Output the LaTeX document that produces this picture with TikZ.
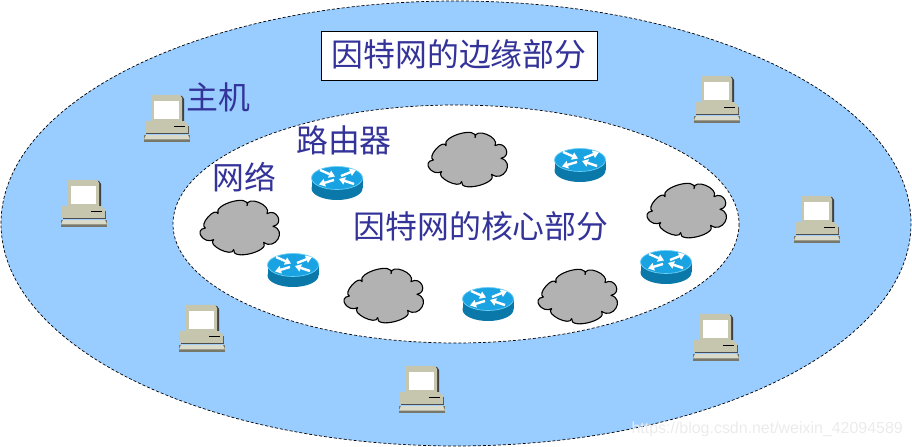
\documentclass[tikz,border=0pt]{standalone}
\usepackage{fontspec}
\setmainfont{Liberation Sans}
\newfontfamily\cjk{Noto Sans CJK SC}
\usetikzlibrary{arrows.meta}
\definecolor{skyfill}{HTML}{99CCFF}
\definecolor{labelblue}{HTML}{333399}
\definecolor{cloudgrey}{HTML}{B2B2B2}
\definecolor{beige}{HTML}{C6C6AE}
\definecolor{beigelt}{HTML}{DADACB}
\definecolor{beigedk}{HTML}{77776A}
\definecolor{routertop}{HTML}{1AA3E3}
\definecolor{routerside}{HTML}{0A78A8}
\definecolor{routeredge}{HTML}{6CCFF5}
\tikzset{
  region/.style={draw=black,densely dashed,line width=0.7pt},
  cjklabel/.style={font=\cjk\fontsize{32}{32}\selectfont,text=labelblue,inner sep=0pt},
  rarrow/.style={white,line width=2.4pt,-{Triangle[length=6bp,width=7.5bp]}},
  pics/hostpc/.style={code={
    \fill[beigedk] (-23,17) -- (23,17) -- (23,24) -- (-23,24) -- cycle;
    \fill[beigelt] (-21,17) -- (21,17) -- (23,21.5) -- (-23,21.5) -- cycle;
    \fill[black!70] (-21,8) rectangle (22,16);
    \fill[beige] (-22,3) -- (17,3) -- (21,7) -- (21,15) -- (-22,15) -- cycle;
    \fill[black!75] (-14,-22) -- (15,-22) -- (17,-19) -- (17,3) -- (-14,3) -- cycle;
    \fill[beige] (-16,-23) -- (13,-23) -- (15,-20) -- (15,4) -- (-16,4) -- cycle;
    \fill[white] (-13,-17) rectangle (12,1);
    \draw[black,line width=0.8pt] (7,8) -- (18,8);
  }},
  pics/routerdisc/.style={code={
    \fill[routerside] (0,5.5) ellipse [x radius=25.5,y radius=11.5];
    \fill[routerside] (-25.5,-5) rectangle (25.5,5.5);
    \fill[routertop] (0,-5) ellipse [x radius=25.5,y radius=11.5];
    \draw[routeredge,line width=0.7pt] (0,-5) ellipse [x radius=25.5,y radius=11.5];
    \draw[rarrow] (-17,-13) -- (-2,-6.5);
    \draw[rarrow] (17,1) -- (2,-4);
    \draw[rarrow] (-3,-3) -- (-18,1.5);
    \draw[rarrow] (4,-7) -- (19,-13);
  }},
  pics/netcloud/.style={code={
    \begin{scope}[scale=0.3333,shift={(-144,-102)}]
    \draw[black,line width=1.1pt,fill=cloudgrey,line join=round]
      (40,105) .. controls (19.6,96.2) and (69,40.2) .. (78,62)
      .. controls (63,33.6) and (176,2.4) .. (165,38)
      .. controls (162.7,5.1) and (240.7,36.3) .. (225,62)
      .. controls (254.3,44.3) and (277.7,93.7) .. (243,100)
      .. controls (285.9,111.5) and (249.5,173.9) .. (215,148)
      .. controls (235.2,175.4) and (118.2,204) .. (125,170)
      .. controls (120.7,194.5) and (42.7,155.5) .. (65,140)
      .. controls (36,155.3) and (3.55,109.75) .. (40,105) -- cycle;
    \end{scope}
  }}
}
\begin{document}
\begin{tikzpicture}[x=1bp,y=-1bp]
\useasboundingbox (0,0) rectangle (912,447);
\path[region,fill=skyfill] (456,223.5) ellipse [x radius=455,y radius=222.5];
\path[region,fill=white] (456,224) ellipse [x radius=283,y radius=119];
\node[draw=black,fill=white,line width=0.8pt,minimum width=276bp,minimum height=49bp,inner sep=0pt] (title) at (459,55.5) {};
\node[cjklabel] (edge) at (459,54) {因特网的边缘部分};
\node[cjklabel] (core) at (481,226) {因特网的核心部分};
\node[cjklabel] (hostlabel) at (218,97) {主机};
\node[cjklabel] (routerlabel) at (344,140) {路由器};
\node[cjklabel] (netlabel) at (244,177) {网络};
\foreach \n/\x/\y in {h1/167/118,h2/84/203,h3/202/328,h4/422/389,h5/717/99,h6/817/219,h7/716/337}
  \pic (\n) at (\x,\y) {hostpc};
\foreach \n/\x/\y in {r1/337/183,r2/580/165,r3/293/270,r4/488/304,r5/666/267}
  \pic (\n) at (\x,\y) {routerdisc};
\foreach \n/\x/\y in {c1/240/227,c2/468/159,c3/687/210,c4/384/295,c5/578/296}
  \pic (\n) at (\x,\y) {netcloud};
\node[font=\fontsize{16}{16}\selectfont,text=black!8,inner sep=0pt,anchor=east] (mark) at (903,429) {https://blog.csdn.net/weixin\_42094589};
\end{tikzpicture}
\end{document}
